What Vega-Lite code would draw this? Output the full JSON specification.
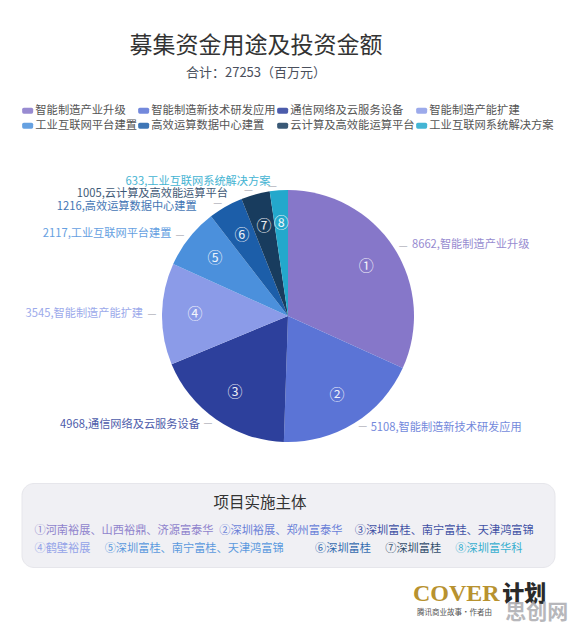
{
  "$schema": "https://vega.github.io/schema/vega-lite/v6.json",
  "background": "white",
  "padding": {"left": 0, "right": 0, "top": 35, "bottom": 0},
  "config": {"font": "Noto Sans CJK SC", "view": {"stroke": null}},
  "title": {
    "text": "募集资金用途及投资金额",
    "subtitle": "合计：27253（百万元）",
    "fontSize": 23,
    "fontWeight": "normal",
    "color": "#333333",
    "subtitleFontSize": 13,
    "subtitleColor": "#4a4f5c",
    "subtitlePadding": 9,
    "anchor": "middle",
    "dx": -32,
    "offset": 25
  },
  "bounds": "flush",
  "center": true,
  "spacing": 4,
  "datasets": {
    "pie": [
      {"num": 1, "name": "智能制造产业升级", "value": 8662, "circ": "①", "label": "8662,智能制造产业升级"},
      {"num": 2, "name": "智能制造新技术研发应用", "value": 5108, "circ": "②", "label": "5108,智能制造新技术研发应用"},
      {"num": 3, "name": "通信网络及云服务设备", "value": 4968, "circ": "③", "label": "4968,通信网络及云服务设备"},
      {"num": 4, "name": "智能制造产能扩建", "value": 3545, "circ": "④", "label": "3545,智能制造产能扩建"},
      {"num": 5, "name": "工业互联网平台建置", "value": 2117, "circ": "⑤", "label": "2117,工业互联网平台建置"},
      {"num": 6, "name": "高效运算数据中心建置", "value": 1216, "circ": "⑥", "label": "1216,高效运算数据中心建置"},
      {"num": 7, "name": "云计算及高效能运算平台", "value": 1005, "circ": "⑦", "label": "1005,云计算及高效能运算平台"},
      {"num": 8, "name": "工业互联网系统解决方案", "value": 633, "circ": "⑧", "label": "633,工业互联网系统解决方案"}
    ],
    "entities": [
      {"num": 1, "row": 1, "chars": 15, "name": "智能制造产业升级", "text": "①河南裕展、山西裕鼎、济源富泰华"},
      {"num": 2, "row": 1, "chars": 11, "name": "智能制造新技术研发应用", "text": "②深圳裕展、郑州富泰华"},
      {"num": 3, "row": 1, "chars": 15, "name": "通信网络及云服务设备", "text": "③深圳富桂、南宁富桂、天津鸿富锦"},
      {"num": 4, "row": 2, "chars": 5, "name": "智能制造产能扩建", "text": "④鹤壁裕展"},
      {"num": 5, "row": 2, "chars": 15, "name": "工业互联网平台建置", "text": "⑤深圳富桂、南宁富桂、天津鸿富锦"},
      {"num": 6, "row": 2, "chars": 5, "name": "高效运算数据中心建置", "text": "⑥深圳富桂"},
      {"num": 7, "row": 2, "chars": 5, "name": "云计算及高效能运算平台", "text": "⑦深圳富桂"},
      {"num": 8, "row": 2, "chars": 6, "name": "工业互联网系统解决方案", "text": "⑧深圳富华科"}
    ]
  },
  "vconcat": [
    {
      "width": 576,
      "height": 326,
      "data": {"name": "pie"},
      "encoding": {
        "theta": {"field": "value", "type": "quantitative", "stack": true},
        "order": {"field": "num", "type": "quantitative", "sort": "ascending"},
        "color": {
          "field": "name",
          "type": "nominal",
          "scale": {
            "domain": ["智能制造产业升级", "智能制造新技术研发应用", "通信网络及云服务设备", "智能制造产能扩建", "工业互联网平台建置", "高效运算数据中心建置", "云计算及高效能运算平台", "工业互联网系统解决方案"],
            "range": ["#8677c9", "#5b74d6", "#2d409c", "#8b9be8", "#4b90dc", "#1c5ea9", "#183c5e", "#23a8cc"]
          },
          "legend": {
            "orient": "none",
            "legendX": 22,
            "legendY": -48,
            "direction": "horizontal",
            "columns": 4,
            "gridAlign": "none",
            "title": null,
            "padding": 0,
            "symbolType": "M-0.7,-0.55 L0.7,-0.55 Q1,-0.55 1,-0.25 L1,0.25 Q1,0.55 0.7,0.55 L-0.7,0.55 Q-1,0.55 -1,0.25 L-1,-0.25 Q-1,-0.55 -0.7,-0.55 Z",
            "symbolSize": 121,
            "symbolStrokeWidth": 0,
            "labelFontSize": 11.3,
            "labelColor": "#555555",
            "labelOffset": 2,
            "columnPadding": 1,
            "rowPadding": 3,
            "labelLimit": 300
          }
        }
      },
      "layer": [
        {"mark": {"type": "arc", "outerRadius": 126}},
        {
          "mark": {"type": "text", "radius": 93, "fontSize": 15, "align": "center", "baseline": "middle", "opacity": 0.9},
          "encoding": {"text": {"field": "circ"}, "color": {"value": "white"}}
        },
        {
          "mark": {"type": "text", "text": "—", "radius": 130, "fontSize": 10, "baseline": "middle", "align": "center",
                   "dx": {"expr": "datum.num <= 2 ? 6 : -6"}},
          "encoding": {"color": {"value": "#b5b5bd"}}
        },
        {
          "mark": {"type": "text", "radius": 132, "fontSize": 11.2, "baseline": "middle", "opacity": 0.85,
                   "align": {"expr": "datum.num <= 2 ? 'left' : 'right'"},
                   "dx": {"expr": "datum.num <= 2 ? 13 : datum.num <= 5 ? -13 : datum.num == 8 ? -8 : -26"},
                   "dy": {"expr": "datum.num <= 5 ? 0 : datum.num == 8 ? -2 : 6"}},
          "encoding": {"text": {"field": "label"}}
        }
      ]
    },
    {
      "width": 533,
      "height": 84,
      "view": {"fill": "#f0f0f4", "cornerRadius": 12, "stroke": "#e6e6eb", "strokeWidth": 1},
      "title": {"text": "项目实施主体", "orient": "top", "frame": "group", "anchor": "middle", "offset": -28, "dx": -28, "fontSize": 15.5, "fontWeight": "normal", "color": "#333333"},
      "data": {"name": "entities"},
      "transform": [
        {"stack": "chars", "groupby": ["row"], "sort": [{"field": "num", "order": "ascending"}], "offset": "normalize", "as": ["x0", "x1"]}
      ],
      "mark": {"type": "text", "align": "left", "baseline": "middle", "fontSize": 11.2, "opacity": 0.9},
      "encoding": {
        "x": {"field": "x0", "type": "quantitative", "scale": {"domain": [-0.02574, 1.0297], "nice": false, "zero": false}, "axis": null},
        "y": {"field": "row", "type": "quantitative", "scale": {"domain": [-1.6667, 3.0], "nice": false, "zero": false, "reverse": true}, "axis": null},
        "text": {"field": "text"},
        "color": {"field": "name", "type": "nominal"}
      }
    },
    {
      "width": 576,
      "height": 58,
      "layer": [
        {
          "data": {"values": [{"t": "COVER"}]},
          "mark": {"type": "text", "align": "left", "baseline": "middle", "font": "Liberation Serif", "fontWeight": "bold", "fontSize": 24, "color": "#b8922f"},
          "encoding": {
            "x": {"datum": 0.717, "type": "quantitative", "scale": {"domain": [0, 1]}, "axis": null},
            "y": {"datum": 0.397, "type": "quantitative", "scale": {"domain": [0, 1], "reverse": true}, "axis": null},
            "text": {"field": "t"}
          }
        },
        {
          "data": {"values": [{"t": "计划"}]},
          "mark": {"type": "text", "align": "left", "baseline": "middle", "fontWeight": 900, "fontSize": 22, "color": "#2a2a2a"},
          "encoding": {
            "x": {"datum": 0.872, "type": "quantitative"},
            "y": {"datum": 0.397, "type": "quantitative"},
            "text": {"field": "t"}
          }
        },
        {
          "data": {"values": [{"t": "腾讯商业故事·作者由"}]},
          "mark": {"type": "text", "align": "left", "baseline": "middle", "fontSize": 7.5, "color": "#555555"},
          "encoding": {
            "x": {"datum": 0.724, "type": "quantitative"},
            "y": {"datum": 0.724, "type": "quantitative"},
            "text": {"field": "t"}
          }
        },
        {
          "data": {"values": [{"t": "思创网"}]},
          "mark": {"type": "text", "align": "left", "baseline": "middle", "fontWeight": "bold", "fontSize": 21, "color": "#b0b0b4", "opacity": 0.9},
          "encoding": {
            "x": {"datum": 0.877, "type": "quantitative"},
            "y": {"datum": 0.724, "type": "quantitative"},
            "text": {"field": "t"}
          }
        }
      ]
    }
  ]
}
